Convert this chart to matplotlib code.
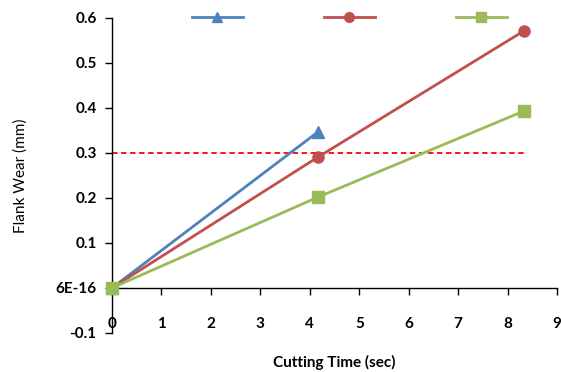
import matplotlib
matplotlib.use("Agg")
import matplotlib.pyplot as plt
from matplotlib.lines import Line2D

# data
t_blue = [0, 4.17]
wear_blue = [0, 0.347]
t_red = [0, 4.17, 8.33]
wear_red = [0, 0.291, 0.571]
t_green = [0, 4.17, 8.33]
wear_green = [0, 0.202, 0.393]
limit = 0.3
limit_end = 8.4

yticks = [-0.1, 0, 0.1, 0.2, 0.3, 0.4, 0.5, 0.6]
ylabels = ['-0.1', '6E-16', '0.1', '0.2', '0.3', '0.4', '0.5', '0.6']
xticks = list(range(10))

blue = '#4F81BD'
red = '#C0504D'
green = '#9BBB59'

plt.rcParams['font.family'] = ['Lato', 'DejaVu Sans']

fig = plt.figure(figsize=(5.61, 3.72), dpi=100)
ax = fig.add_axes([0.1996, 0.105, 0.7934, 0.847])

ax.plot(t_blue, wear_blue, color=blue, lw=2, marker='^', ms=8, clip_on=False, zorder=3)
ax.plot(t_red, wear_red, color=red, lw=2, marker='o', ms=8, clip_on=False, zorder=3)
ax.plot(t_green, wear_green, color=green, lw=2, marker='s', ms=8, clip_on=False, zorder=4)
ax.plot([0, limit_end], [limit, limit], color='#FF0000', lw=1.3, ls=(0, (3, 2)), zorder=2)

ax.set_xlim(0, 9)
ax.set_ylim(-0.1, 0.6)
ax.spines['top'].set_visible(False)
ax.spines['right'].set_visible(False)
ax.spines['bottom'].set_position(('data', 0))
ax.spines['left'].set_position(('data', 0))
for s in ('left', 'bottom'):
    ax.spines[s].set_linewidth(1.0)

ax.set_yticks(yticks)
ax.set_yticklabels(ylabels)
ax.set_xticks(xticks)
ax.tick_params(axis='y', direction='out', length=5, width=1, pad=6, labelsize=11)
ax.tick_params(axis='x', direction='out', length=5, width=1, pad=16, labelsize=11)
for lab in ax.get_xticklabels() + ax.get_yticklabels():
    lab.set_fontweight('bold')

ax.set_ylabel('Flank Wear (mm)', fontsize=11)
ax.yaxis.set_label_coords(-0.19, 0.5)
ax.set_xlabel('Cutting Time (sec)', fontsize=11, fontweight='bold')
ax.xaxis.set_label_coords(0.5, -0.07)

handles = [
    Line2D([], [], color=blue, lw=2, marker='^', ms=7),
    Line2D([], [], color=red, lw=2, marker='o', ms=7),
    Line2D([], [], color=green, lw=2, marker='s', ms=7),
]
ax.legend(handles, ['', '', ''], ncol=3, frameon=False, loc='center',
          bbox_to_anchor=(0.538, 1.0), handlelength=3.7, columnspacing=5.5,
          handletextpad=0.3)

fig.savefig('out.png', dpi=100)
